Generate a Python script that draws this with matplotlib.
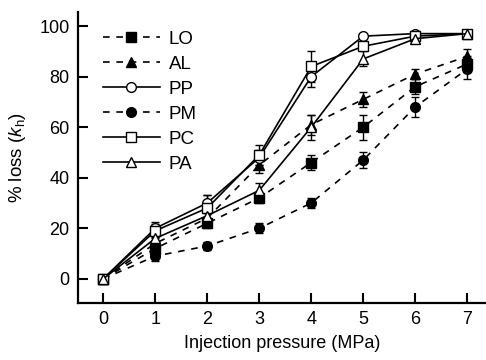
import matplotlib
matplotlib.use('Agg')
import matplotlib.pyplot as plt

plt.rcParams['font.family'] = ['Liberation Sans', 'DejaVu Sans']
plt.rcParams['mathtext.fontset'] = 'custom'
plt.rcParams['mathtext.rm'] = 'Liberation Sans'
plt.rcParams['mathtext.it'] = 'Liberation Sans:italic'

# injection pressure (MPa)
pressure = [0, 1, 2, 3, 4, 5, 6, 7]

# % loss of hydraulic conductivity
lo = [0, 12, 22, 32, 46, 60, 76, 85]
al = [0, 14, 24, 45, 61, 71, 81, 88]
pp = [0, 20, 30, 48, 80, 96, 97, 97]
pm = [0, 9, 13, 20, 30, 47, 68, 83]
pc = [0, 19, 28, 49, 84, 92, 96, 97]
pa = [0, 16, 25, 35, 60, 87, 95, 97]

# standard errors
lo_err = [0, 2, 2, 2, 3, 5, 3, 3]
al_err = [0, 2, 2, 3, 4, 3, 2, 3]
pp_err = [0, 2.5, 3, 3, 4, 1, 1, 1]
pm_err = [0, 2, 1.5, 2, 2, 3, 4, 4]
pc_err = [0, 2.5, 5, 4, 6, 1, 1, 1]
pa_err = [0, 2, 2, 3, 5, 3, 1, 1]

fig = plt.figure(figsize=(4.86, 3.6), dpi=100)
ax = fig.add_axes([0.16, 0.158, 0.84, 0.809])

series = [
    ('LO', lo, lo_err, 's', 'k', '--'),
    ('AL', al, al_err, '^', 'k', '--'),
    ('PP', pp, pp_err, 'o', 'white', '-'),
    ('PM', pm, pm_err, 'o', 'k', '--'),
    ('PC', pc, pc_err, 's', 'white', '-'),
    ('PA', pa, pa_err, '^', 'white', '-'),
]

handles = []
names = []
for name, vals, errs, mk, fc, ls in series:
    c = ax.errorbar(pressure, vals, yerr=errs, color='k', ls=ls, lw=1.2,
                    dashes=(4, 4) if ls == '--' else (None, None),
                    marker=mk, mfc=fc, mec='k', ms=7, mew=1.0,
                    capsize=3, elinewidth=1.0, capthick=1.0)
    handles.append(c[0])
    names.append(name)

ax.set_xlim(-0.49, 7.36)
ax.set_ylim(-9.6, 105.6)
ax.set_xticks(range(0, 8))
ax.set_yticks(range(0, 101, 20))

for side in ['top', 'right']:
    ax.spines[side].set_visible(False)
for side in ['left', 'bottom']:
    ax.spines[side].set_linewidth(1.6)
ax.tick_params(direction='in', length=7, width=1.5, labelsize=13, pad=6)

ax.set_xlabel('Injection pressure (MPa)', fontsize=13, labelpad=5)
ax.set_ylabel(r'% loss ($\mathit{k}_\mathrm{h}$)', fontsize=13.5, labelpad=8)

leg = ax.legend(handles, names, loc='upper left', bbox_to_anchor=(0.035, 0.975),
                frameon=False, fontsize=13.5, handlelength=3.0,
                handletextpad=0.5, labelspacing=0.42, borderaxespad=0.2)

fig.savefig('out.png', dpi=100)
